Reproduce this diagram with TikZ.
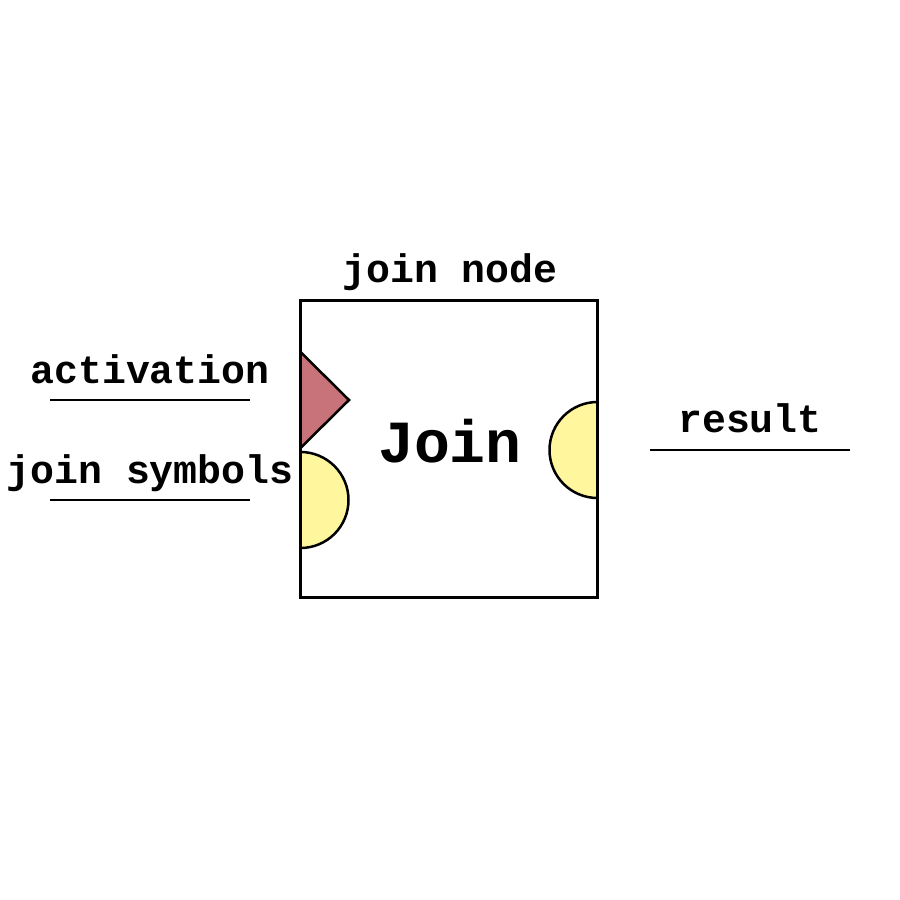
\documentclass[tikz,border=0pt]{standalone}
\usepackage{fontspec}
\setmonofont{Liberation Mono}
\begin{document}
\begin{tikzpicture}[x=1bp,y=-1bp,
  lbl/.style={font=\ttfamily\bfseries\fontsize{40}{40}\selectfont, anchor=base, inner sep=0pt},
  big/.style={font=\ttfamily\bfseries\fontsize{60}{60}\selectfont, anchor=base, inner sep=0pt},
  pline/.style={line width=2.6bp},
  edge/.style={line width=2.5bp, draw=black}]
\definecolor{pinkf}{RGB}{200,115,122}
\definecolor{yellowf}{RGB}{255,246,158}
\useasboundingbox (0,0) rectangle (900,900);
\coordinate (bnw) at (300.5,300.5);
\coordinate (bse) at (597.5,597.5);
\filldraw[edge, fill=pinkf, line join=miter] (300.5,352) -- (349,400) -- (300.5,448) -- cycle;
\filldraw[edge, fill=yellowf] (300.5,452) arc[start angle=-90, end angle=90, radius=48] -- cycle;
\filldraw[edge, fill=yellowf] (597.5,402) arc[start angle=-90, end angle=-270, radius=48] -- cycle;
\draw[edge] (bnw) rectangle (bse);
\node[lbl] (tn) at (450,282) {join node};
\node[big] (jn) at (450,462) {Join};
\node[lbl] (ta) at (150,383) {activation};
\node[lbl] (ts) at (150,483) {join symbols};
\node[lbl] (tr) at (750,432) {result};
\coordinate (a1) at (50,400); \coordinate (a2) at (250,400);
\coordinate (s1) at (50,500); \coordinate (s2) at (250,500);
\coordinate (r1) at (650,450); \coordinate (r2) at (850,450);
\draw[pline] (a1) -- (a2);
\draw[pline] (s1) -- (s2);
\draw[pline] (r1) -- (r2);
\end{tikzpicture}
\end{document}
